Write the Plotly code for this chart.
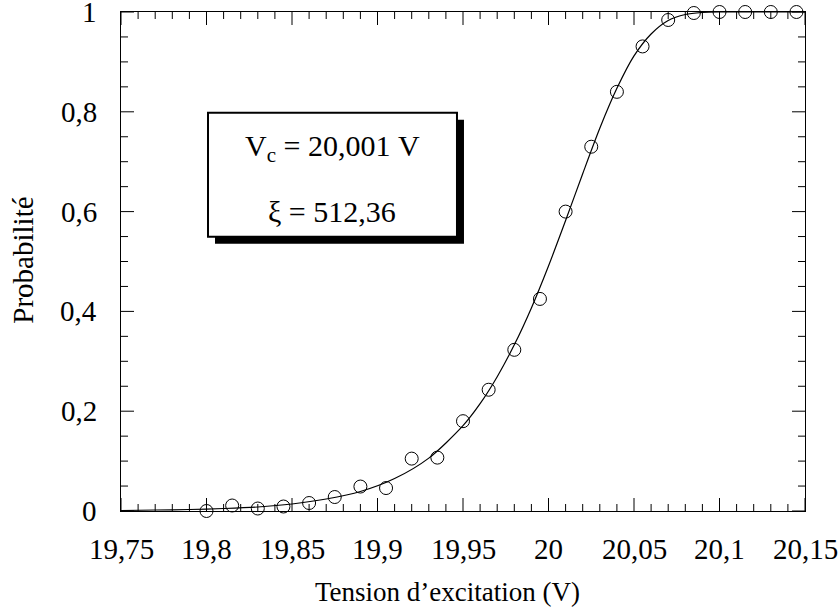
import plotly.graph_objects as go

# Measured points
volt = [19.80, 19.815, 19.83, 19.845, 19.86, 19.875, 19.89, 19.905, 19.92, 19.935,
        19.95, 19.965, 19.98, 19.995, 20.01, 20.025, 20.04, 20.055, 20.07, 20.085,
        20.10, 20.115, 20.13, 20.145]
prob = [0.000, 0.011, 0.005, 0.009, 0.016, 0.028, 0.049, 0.046, 0.105, 0.107,
        0.180, 0.243, 0.323, 0.425, 0.600, 0.730, 0.840, 0.931, 0.984, 0.998,
        1.000, 1.000, 1.000, 1.000]

# Fitted curve
fit_v = [19.75, 19.77, 19.79, 19.81, 19.83, 19.85, 19.87, 19.89, 19.91, 19.93,
         19.95, 19.96, 19.97, 19.98, 19.99, 20.00, 20.01, 20.02, 20.03, 20.04,
         20.05, 20.06, 20.07, 20.08, 20.09, 20.10, 20.12, 20.15]
fit_p = [0.001, 0.002, 0.003, 0.005, 0.008, 0.014, 0.024, 0.039, 0.065, 0.106,
         0.171, 0.215, 0.269, 0.333, 0.407, 0.491, 0.582, 0.676, 0.767, 0.847,
         0.912, 0.956, 0.983, 0.995, 0.999, 1.000, 1.000, 1.000]

x_tickvals = [19.75, 19.80, 19.85, 19.90, 19.95, 20.00, 20.05, 20.10, 20.15]
x_ticktext = ["19,75", "19,8", "19,85", "19,9", "19,95", "20", "20,05", "20,1", "20,15"]
y_tickvals = [0, 0.2, 0.4, 0.6, 0.8, 1.0]
y_ticktext = ["0", "0,2", "0,4", "0,6", "0,8", "1"]

X_RANGE = [19.75, 20.15]
Y_RANGE = [0, 1]
X_MINOR_STEP = 0.01
Y_MINOR_STEP = 0.05

FONT = "Liberation Serif"
TICK_FS = 29
XTITLE_FS = 27
YTITLE_FS = 29
BOX_FS = 30

fig = go.Figure()
fig.add_trace(go.Scatter(x=fit_v, y=fit_p, mode="lines",
                         line=dict(color="black", width=1.2, shape="spline", smoothing=0.8),
                         hoverinfo="skip", showlegend=False))
fig.add_trace(go.Scatter(x=volt, y=prob, mode="markers", cliponaxis=False,
                         marker=dict(symbol="circle-open", size=13, color="black", line=dict(width=1)),
                         showlegend=False))

common = dict(showgrid=False, zeroline=False, showline=True, linecolor="black", linewidth=1,
              mirror=True, ticks="", showticklabels=False, fixedrange=True)
fig.update_xaxes(range=X_RANGE, **common)
fig.update_yaxes(range=Y_RANGE, **common)

W, H = 684, 499          # plot-area size in px
MAJ, MIN = 13, 7         # tick lengths in px
tick_line = dict(color="black", width=1)

# inside ticks on all four sides, placed through the axes
n_xmin = int(round((X_RANGE[1] - X_RANGE[0]) / X_MINOR_STEP))
for k in range(n_xmin + 1):
    v = X_RANGE[0] + k * X_MINOR_STEP
    L = (MAJ if k % 5 == 0 else MIN) / H
    fig.add_shape(type="line", xref="x", yref="paper", x0=v, x1=v, y0=0, y1=L, line=tick_line)
    fig.add_shape(type="line", xref="x", yref="paper", x0=v, x1=v, y0=1, y1=1 - L, line=tick_line)
n_ymin = int(round((Y_RANGE[1] - Y_RANGE[0]) / Y_MINOR_STEP))
for k in range(n_ymin + 1):
    v = Y_RANGE[0] + k * Y_MINOR_STEP
    L = (MAJ if k % 4 == 0 else MIN) / W
    fig.add_shape(type="line", xref="paper", yref="y", x0=0, x1=L, y0=v, y1=v, line=tick_line)
    fig.add_shape(type="line", xref="paper", yref="y", x0=1, x1=1 - L, y0=v, y1=v, line=tick_line)

# tick labels
for v, t in zip(x_tickvals, x_ticktext):
    fig.add_annotation(xref="x", yref="paper", x=v, y=-0.0756, xanchor="center", yanchor="middle",
                       showarrow=False, text=t, font=dict(family=FONT, size=TICK_FS, color="black"))
for v, t in zip(y_tickvals, y_ticktext):
    fig.add_annotation(xref="paper", yref="y", x=-0.032, y=v, xanchor="right", yanchor="middle",
                       showarrow=False, text=t, font=dict(family=FONT, size=TICK_FS, color="black"))

# text box with drop shadow
sh = 7
bx0, bx1, by0, by1 = 0.1272, 0.4912, 0.5497, 0.798
fig.add_shape(type="rect", xref="paper", yref="paper",
              x0=bx0 + sh / W, x1=bx1 + sh / W, y0=by0 - sh / H, y1=by1 - sh / H,
              fillcolor="black", line=dict(color="black", width=0))
fig.add_shape(type="rect", xref="paper", yref="paper", x0=bx0, x1=bx1, y0=by0, y1=by1,
              fillcolor="white", line=dict(color="black", width=2))
fig.add_annotation(xref="paper", yref="paper", x=0.3085, y=0.728, xanchor="center", yanchor="middle",
                   showarrow=False, text="V<sub>c</sub>\u00a0=\u00a020,001\u00a0V",
                   font=dict(family=FONT, size=BOX_FS, color="black"))
fig.add_annotation(xref="paper", yref="paper", x=0.3085, y=0.601, xanchor="center", yanchor="middle",
                   showarrow=False, text="ξ\u00a0=\u00a0512,36",
                   font=dict(family=FONT, size=BOX_FS, color="black"))

# axis titles
fig.add_annotation(xref="paper", yref="paper", x=0.478, y=-0.1617, xanchor="center", yanchor="middle",
                   showarrow=False, text="Tension d’excitation (V)",
                   font=dict(family=FONT, size=XTITLE_FS, color="black"))
fig.add_annotation(xref="paper", yref="paper", x=-0.1433, y=0.5036, xanchor="center", yanchor="middle",
                   showarrow=False, textangle=-90, text="Probabilité",
                   font=dict(family=FONT, size=YTITLE_FS, color="black"))

fig.update_layout(width=839, height=611, margin=dict(l=121, r=34, t=12, b=100, autoexpand=False),
                  paper_bgcolor="white", plot_bgcolor="white", showlegend=False,
                  font=dict(family=FONT, size=TICK_FS, color="black"))

# remove the default 8 px page margin so the figure sits at the window's corner
fig.write_html("out.html", config={"displayModeBar": False},
               post_script="document.body.style.margin='0';")
